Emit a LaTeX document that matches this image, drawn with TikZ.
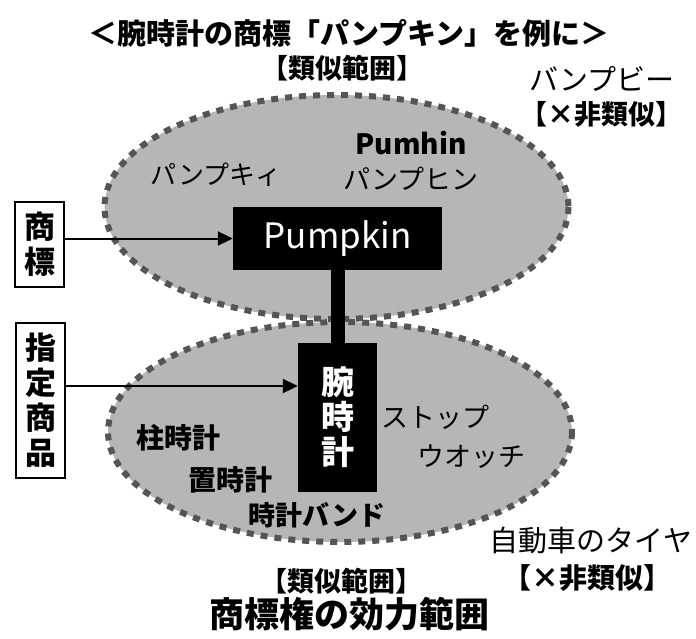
\documentclass[tikz,border=0pt]{standalone}
\usepackage{fontspec}
\setmainfont{Noto Sans CJK JP}
\usetikzlibrary{arrows.meta}
\definecolor{fillgray}{RGB}{182,182,182}
\definecolor{dashgray}{RGB}{85,85,85}
\tikzset{
  rangefill/.style={fill=fillgray},
  rangeborder/.style={draw=dashgray,line width=6pt,dash pattern=on 7pt off 7pt},
  blackbox/.style={fill=black,text=white,inner sep=0pt,font=\bfseries\fontsize{33}{35}\selectfont,align=center},
  whitebox/.style={draw=black,line width=1.5pt,fill=white,inner sep=0pt,font=\bfseries\fontsize{31}{35}\selectfont,align=center},
  lbl/.style={inner sep=0pt,font=\fontsize{27}{29}\selectfont},
  blbl/.style={inner sep=0pt,font=\bfseries\fontsize{28}{30}\selectfont},
  arr/.style={line width=2pt,-{Triangle[length=15pt,width=14pt]}},
}
\begin{document}
\begin{tikzpicture}[x=1pt,y=-1pt]
\useasboundingbox (0,0) rectangle (696,638);
% ellipses
\fill[rangefill] (336.5,207) ellipse [x radius=232, y radius=112];
\draw[rangeborder] (336.5,207) ellipse [x radius=232, y radius=112];
\fill[rangefill] (340,432) ellipse [x radius=232, y radius=110];
\draw[rangeborder] (340,432) ellipse [x radius=232, y radius=110];
% title
\node[inner sep=0pt,font=\bfseries\fontsize{29}{31}\selectfont] (title) at (349,33) {＜腕時計の商標「パンプキン」を例に＞};
\node[blbl,font=\bfseries\fontsize{27}{29}\selectfont] (simtop) at (342,68) {【類似範囲】};
\node[lbl,font=\fontsize{29}{31}\selectfont] (banpubi) at (602,79) {バンプビー};
\node[blbl,font=\bfseries\fontsize{27}{29}\selectfont] (nonsimtop) at (601,114) {【×非類似】};
% upper texts
\node[lbl,font=\fontsize{26}{28}\selectfont] (pankii) at (216,175) {パンプキィ};
\node[blbl,font=\bfseries\fontsize{28}{30}\selectfont] (pumhin) at (411,143) {Pumhin};
\node[lbl] (panpuhin) at (411,179) {パンプヒン};
% lower texts
\node[blbl] (hashira) at (178,438) {柱時計};
\node[blbl] (oki) at (230,480) {置時計};
\node[lbl] (stop) at (435,417) {ストップ};
\node[lbl] (watch) at (471,457) {ウオッチ};
\node[blbl,font=\bfseries\fontsize{27}{29}\selectfont] (band) at (317,515) {時計バンド};
\node[lbl,font=\fontsize{29}{31}\selectfont] (tire) at (591,541) {自動車のタイヤ};
\node[blbl,font=\bfseries\fontsize{28}{30}\selectfont] (nonsimbot) at (587,578) {【×非類似】};
\node[blbl,font=\bfseries\fontsize{27}{29}\selectfont] (simbot) at (341,581) {【類似範囲】};
\node[inner sep=0pt,font=\bfseries\fontsize{35}{37}\selectfont] (effect) at (349,614) {商標権の効力範囲};
% boxes
\node[blackbox,font=\fontsize{35}{37}\selectfont,minimum width=209pt,minimum height=63pt] (pumpkin) at (337.5,238.5) {Pumpkin};
\node[blackbox,minimum width=79pt,minimum height=149pt] (watchbox) at (337.5,417.5) {腕\\時\\計};
\draw[line width=14pt] (pumpkin.south) -- (watchbox.north);
\node[whitebox,minimum width=49pt,minimum height=85pt] (shohyo) at (39.5,244.5) {商\\標};
\node[whitebox,minimum width=49pt,minimum height=155pt] (shitei) at (40.5,400.5) {指\\定\\商\\品};
% arrows
\coordinate (a1) at (shohyo.east |- pumpkin.west);
\draw[arr] (a1) -- (pumpkin.west);
\coordinate (a2s) at (shitei.east |- 0,386);
\coordinate (a2e) at (watchbox.west |- 0,386);
\draw[arr] (a2s) -- (a2e);
\end{tikzpicture}
\end{document}
